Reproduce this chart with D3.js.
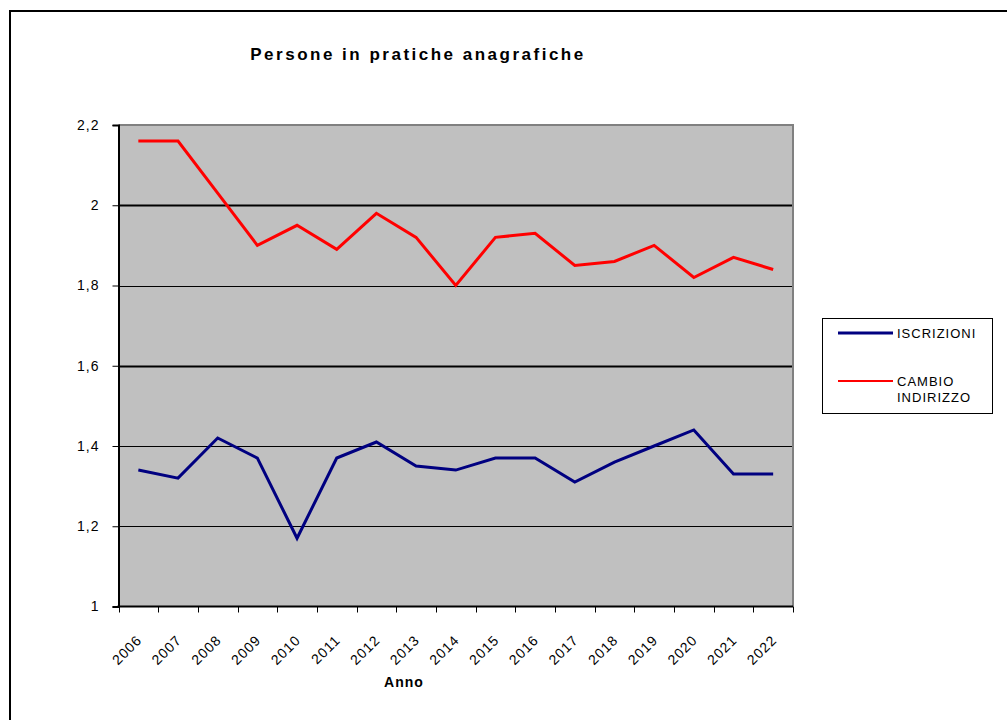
<!DOCTYPE html>
<html><head><meta charset="utf-8">
<script src="https://cdn.jsdelivr.net/npm/d3@7"></script>
<style>body{margin:0;background:#fff;}svg{display:block;font-family:Arial,"Liberation Sans",sans-serif;}</style>
</head><body>
<svg id="c" width="1007" height="720"></svg>
<script>
const years = ["2006","2007","2008","2009","2010","2011","2012","2013","2014","2015","2016","2017","2018","2019","2020","2021","2022"];
const iscrizioni = [1.34,1.32,1.42,1.37,1.17,1.37,1.41,1.35,1.34,1.37,1.37,1.31,1.36,1.40,1.44,1.33,1.33];
const cambioIndirizzo = [2.16,2.16,2.03,1.90,1.95,1.89,1.98,1.92,1.80,1.92,1.93,1.85,1.86,1.90,1.82,1.87,1.84];
const yTicks = [1,1.2,1.4,1.6,1.8,2,2.2];
const title = "Persone in pratiche anagrafiche";
const xTitle = "Anno";

const svg = d3.select("#c");
const L=118.5, R=793, T=125, B=606.5;

// outer border
svg.append("rect").attr("x",10).attr("y",11).attr("width",1100).attr("height",800)
  .attr("fill","none").attr("stroke","#000").attr("stroke-width",2);

const x = d3.scaleBand().domain(years).range([L,R]);
const y = d3.scaleLinear().domain([1,2.2]).range([B,T]);
const cx = d => x(d)+x.bandwidth()/2;

// plot background
svg.append("rect").attr("x",L).attr("y",T).attr("width",R-L).attr("height",B-T).attr("fill","#c0c0c0");

// gridlines
svg.append("g").selectAll("line").data(yTicks.filter(v=>v>1&&v<2.2)).join("line")
  .attr("x1",L).attr("x2",R).attr("y1",d=>Math.round(y(d))+0.5).attr("y2",d=>Math.round(y(d))+0.5)
  .attr("stroke","#000").attr("stroke-width",d=>(Math.abs(d-2)<1e-6||Math.abs(d-1.6)<1e-6)?2:1);

// top & right border
svg.append("path").attr("d",`M${L},${T}H${R}V${B}`).attr("fill","none").attr("stroke","#808080").attr("stroke-width",2);

// y axis
const yAxis = d3.axisLeft(y).tickValues(yTicks).tickSize(6).tickPadding(13)
  .tickFormat(d=>d3.format("")(+d.toFixed(1)).replace(".",","));
const ga = svg.append("g").attr("transform",`translate(${L},0)`).call(yAxis);
ga.select(".domain").attr("stroke","#000").attr("stroke-width",2);
ga.selectAll("text").attr("font-size",14).attr("letter-spacing","1px").attr("fill","#000").attr("font-family","Arial, 'Liberation Sans', sans-serif");

// x axis
const gx = svg.append("g").attr("transform",`translate(0,${B})`);
gx.append("line").attr("x1",L-1).attr("x2",R).attr("y1",0).attr("y2",0).attr("stroke","#000").attr("stroke-width",2);
const bounds = years.map(d=>x(d)).concat([R]);
gx.selectAll("line.tk").data(bounds).join("line").attr("class","tk")
  .attr("x1",d=>Math.round(d)+0.5).attr("x2",d=>Math.round(d)+0.5).attr("y1",0).attr("y2",6)
  .attr("stroke","#000").attr("stroke-width",1);
gx.selectAll("text").data(years).join("text")
  .attr("transform",d=>`translate(${cx(d)+1},${31}) rotate(-45)`)
  .attr("text-anchor","end").attr("dy","0.35em").attr("font-size",14).attr("letter-spacing","1px").attr("fill","#000").text(d=>d);

// lines
const line = d3.line().x((d,i)=>cx(years[i])).y(d=>y(d));
svg.append("path").datum(cambioIndirizzo).attr("d",line).attr("fill","none").attr("stroke","#ff0000").attr("stroke-width",3).attr("stroke-linejoin","miter");
svg.append("path").datum(iscrizioni).attr("d",line).attr("fill","none").attr("stroke","#000080").attr("stroke-width",3).attr("stroke-linejoin","miter");

// titles
svg.append("text").attr("x",418).attr("y",60).attr("text-anchor","middle").attr("font-size",17).attr("letter-spacing","2.5px").attr("font-weight","bold").attr("fill","#000").text(title);
svg.append("text").attr("x",404).attr("y",687).attr("text-anchor","middle").attr("font-size",14).attr("letter-spacing","1px").attr("font-weight","bold").attr("fill","#000").text(xTitle);

// legend
const lg = svg.append("g");
lg.append("rect").attr("x",822.5).attr("y",318.5).attr("width",170).attr("height",95).attr("fill","#fff").attr("stroke","#000").attr("stroke-width",1);
const legendItems = [
  {lines:["ISCRIZIONI"], color:"#000080", y:333},
  {lines:["CAMBIO","INDIRIZZO"], color:"#ff0000", y:381}
];
legendItems.forEach(it=>{
  lg.append("line").attr("x1",838).attr("x2",893).attr("y1",it.y).attr("y2",it.y).attr("stroke",it.color).attr("stroke-width",it.color==="#000080"?3:2);
  it.lines.forEach((t,i)=>{
    lg.append("text").attr("x",897).attr("y",it.y+5+i*16).attr("font-size",13).attr("letter-spacing","1px").attr("fill","#000").text(t);
  });
});
</script>
</body></html>
